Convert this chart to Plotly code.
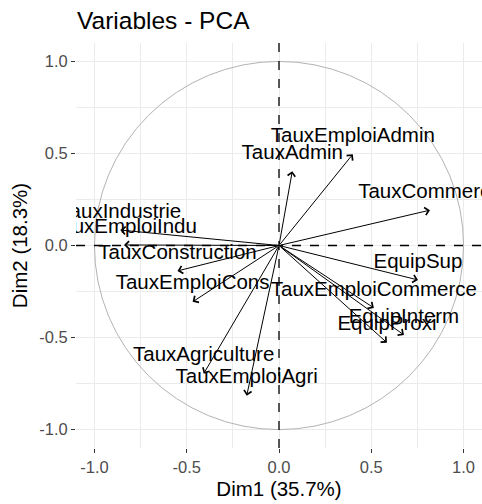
import plotly.graph_objects as go

# Variable coordinates on the first two principal components
variables = [
    "TauxEmploiAdmin", "TauxAdmin", "TauxCommerce", "EquipSup",
    "TauxEmploiCommerce", "EquipInterm", "EquipProxi",
    "TauxIndustrie", "TauxEmploiIndu", "TauxConstruction",
    "TauxEmploiCons", "TauxAgriculture", "TauxEmploiAgri",
]
dim1 = [0.400, 0.072, 0.818, 0.753, 0.514, 0.677, 0.585,
        -0.860, -0.840, -0.550, -0.468, -0.408, -0.175]
dim2 = [0.496, 0.404, 0.192, -0.187, -0.339, -0.486, -0.528,
        0.084, 0.003, -0.138, -0.306, -0.696, -0.816]

x_title = "Dim1 (35.7%)"
y_title = "Dim2 (18.3%)"
tick_vals = [-1.0, -0.5, 0.0, 0.5, 1.0]
tick_text = ["-1.0", "-0.5", "0.0", "0.5", "1.0"]

FONT = "Liberation Sans, Arial, sans-serif"
GRID = "#EBEBEB"

fig = go.Figure()

# variable names, placed just above each arrow tip and clipped to the panel
fig.add_trace(go.Scatter(
    x=dim1, y=dim2, mode="markers+text", text=variables,
    textposition="top center", cliponaxis=True,
    marker=dict(size=10, color="rgba(0,0,0,0)"),
    textfont=dict(family=FONT, size=20.5, color="#000000"),
    hoverinfo="skip", showlegend=False,
))

# arrows from the origin to each variable
for xv, yv in zip(dim1, dim2):
    fig.add_annotation(
        x=xv, y=yv, ax=0, ay=0, xref="x", yref="y", axref="x", ayref="y",
        text="", showarrow=True, arrowhead=4, arrowsize=1.5,
        arrowwidth=1, arrowcolor="#000000", standoff=0, startstandoff=0,
    )

# correlation circle and the dashed axes through the origin
fig.add_shape(type="circle", x0=-1, y0=-1, x1=1, y1=1, xref="x", yref="y",
              line=dict(color="#B3B3B3", width=1), layer="between")
fig.add_shape(type="line", x0=0, x1=0, y0=-1.1, y1=1.1, xref="x", yref="y",
              line=dict(color="#000000", width=1.3, dash="dash"), layer="between")
fig.add_shape(type="line", x0=-1.1, x1=1.1, y0=0, y1=0, xref="x", yref="y",
              line=dict(color="#000000", width=1.3, dash="dash"), layer="between")

axis_common = dict(
    tickvals=tick_vals, ticktext=tick_text,
    showgrid=True, gridcolor=GRID, gridwidth=1.2,
    minor=dict(dtick=0.25, tick0=0, showgrid=True, gridcolor=GRID, gridwidth=0.8),
    zeroline=False, showline=False,
    ticks="outside", ticklen=4, tickwidth=1.2, tickcolor="#333333",
    tickfont=dict(family=FONT, size=16.5, color="#4D4D4D"),
    fixedrange=True,
)

fig.update_xaxes(range=[-1.1, 1.1], title=dict(text=x_title, standoff=6,
                 font=dict(family=FONT, size=20.5, color="#000000")), **axis_common)
fig.update_yaxes(range=[-1.1, 1.1], title=dict(text=y_title, standoff=6,
                 font=dict(family=FONT, size=20.5, color="#000000")), **axis_common)

fig.update_layout(
    width=482, height=504,
    margin=dict(l=76, r=0, t=43, b=56),
    paper_bgcolor="#FFFFFF", plot_bgcolor="#FFFFFF",
    title=dict(text="Variables - PCA", x=77 / 482, xanchor="left", xref="container",
               y=1 - 20 / 504, yanchor="middle",
               font=dict(family=FONT, size=24.5, color="#000000")),
    showlegend=False,
)

fig.write_html("out.html")
